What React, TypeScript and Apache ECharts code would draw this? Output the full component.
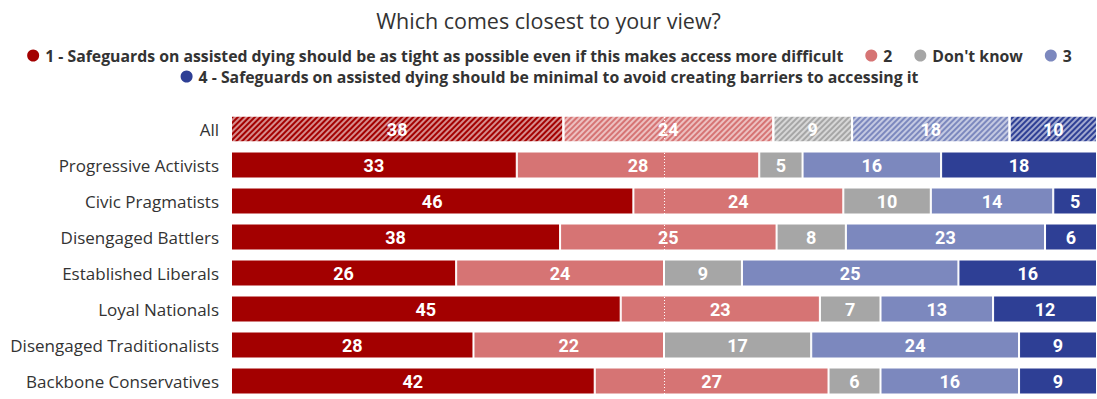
import React, { useEffect, useRef } from "react";
import * as echarts from "echarts";

const categories = [
  "All",
  "Progressive Activists",
  "Civic Pragmatists",
  "Disengaged Battlers",
  "Established Liberals",
  "Loyal Nationals",
  "Disengaged Traditionalists",
  "Backbone Conservatives",
];

const seriesNames = [
  "1 - Safeguards on assisted dying should be as tight as possible even if this makes access more difficult",
  "2",
  "Don't know",
  "3",
  "4 - Safeguards on assisted dying should be minimal to avoid creating barriers to accessing it",
];

const tight = [38, 33, 46, 38, 26, 45, 28, 42];
const two = [24, 28, 24, 25, 24, 23, 22, 27];
const dontKnow = [9, 5, 10, 8, 9, 7, 17, 6];
const three = [18, 16, 14, 23, 25, 13, 24, 16];
const minimal = [10, 18, 5, 6, 16, 12, 9, 9];

const colors = ["#A30000", "#D67474", "#A6A6A6", "#7C88BE", "#2E3F95"];

export default function App() {
  const ref = useRef<HTMLDivElement>(null);

  useEffect(() => {
    if (!ref.current) return;
    const chart = echarts.init(ref.current, undefined, { renderer: "svg" });
    const all = [tight, two, dontKnow, three, minimal];
    const sums = categories.map((_, i) => all.reduce((s, arr) => s + arr[i], 0));

    const series = all.map((arr, si) => ({
      name: seriesNames[si],
      type: "bar",
      stack: "total",
      barWidth: 27,
      itemStyle: { color: colors[si], borderColor: "#fff", borderWidth: 1 },
      label: {
        show: true,
        position: "inside",
        color: "#fff",
        fontFamily: "Roboto",
        fontWeight: "bold",
        fontSize: 18,
        formatter: (p: any) => String(arr[p.dataIndex]),
      },
      data: arr.map((v, i) => {
        const val = (v / sums[i]) * 100;
        if (i === 0) {
          return {
            value: val,
            itemStyle: {
              color: colors[si],
              decal: {
                symbol: "rect",
                symbolSize: 1,
                dashArrayX: [1, 0],
                dashArrayY: [1.2, 1.6],
                rotation: -Math.PI / 4,
                color: "rgba(255,255,255,0.55)",
              },
            },
          };
        }
        return val;
      }),
      ...(si === 4
        ? {
            markLine: {
              silent: true,
              symbol: ["none", "none"],
              label: { show: false },
              lineStyle: { color: "#fff", type: [1, 2], width: 1 },
              data: [{ xAxis: 50 }],
            },
          }
        : {}),
    }));

    const legendText = {
      fontFamily: "Open Sans",
      fontWeight: "bold",
      fontSize: 15.8,
      color: "#333",
    };

    chart.setOption({
      animation: false,
      backgroundColor: "#fff",
      title: {
        text: "Which comes closest to your view?",
        left: "center",
        top: 4,
        textStyle: { fontFamily: "Open Sans", fontWeight: "normal", fontSize: 21.5, color: "#333" },
      },
      legend: [
        {
          data: seriesNames.slice(0, 4),
          left: "center",
          top: 42.5,
          icon: "circle",
          itemWidth: 14,
          itemHeight: 14,
          itemGap: 20,
          selectedMode: false,
          textStyle: legendText,
        },
        {
          data: [seriesNames[4]],
          left: "center",
          top: 63.5,
          icon: "circle",
          itemWidth: 14,
          itemHeight: 14,
          selectedMode: false,
          textStyle: legendText,
        },
      ],
      grid: { left: 231, top: 111, width: 870, height: 294.4, containLabel: false },
      xAxis: { type: "value", min: 0, max: 100, show: false },
      yAxis: {
        type: "category",
        inverse: true,
        data: categories,
        axisLine: { show: false },
        axisTick: { show: false },
        axisLabel: { fontFamily: "Open Sans", fontSize: 17, color: "#333", margin: 12 },
      },
      series,
    });
    return () => chart.dispose();
  }, []);

  return (
    <div
      ref={ref}
      style={{ position: "absolute", left: 0, top: 0, width: 1097, height: 399 }}
    />
  );
}
